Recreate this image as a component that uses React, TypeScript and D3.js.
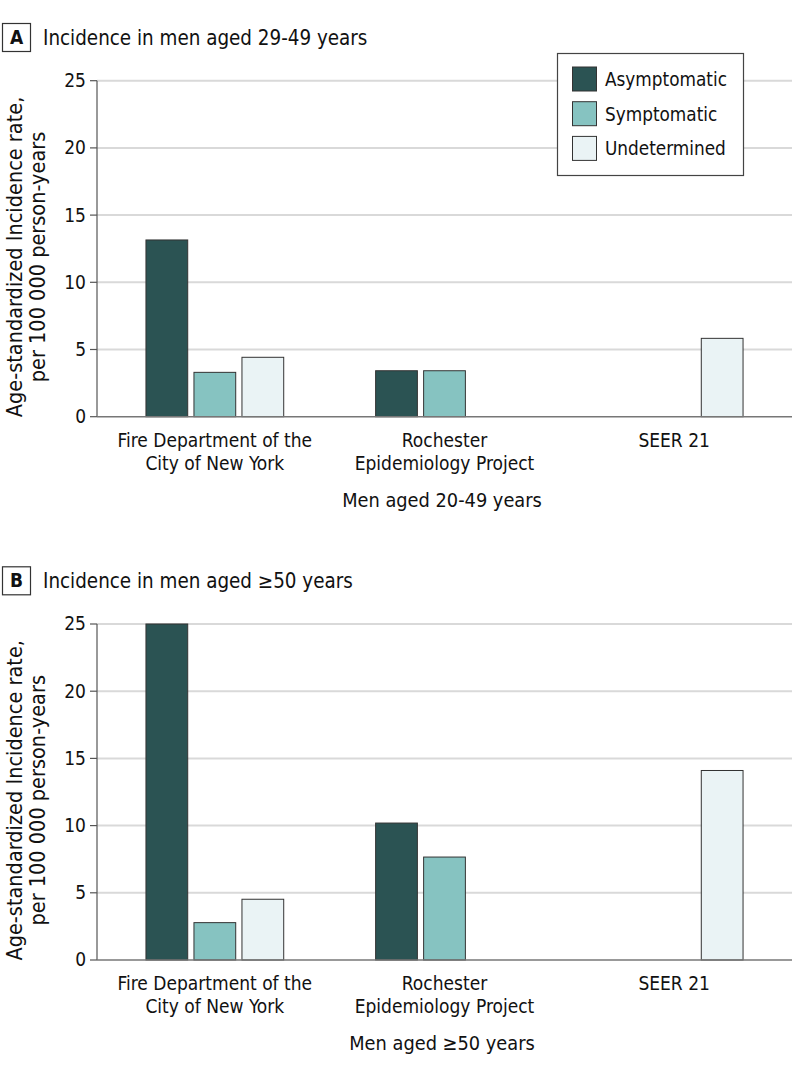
import React from "react";
import * as d3 from "d3";

const categories = ["Fire Department of the\nCity of New York", "Rochester\nEpidemiology Project", "SEER 21"];
const series = ["Asymptomatic", "Symptomatic", "Undetermined"];
const colors = ["#2b5353", "#86c3c1", "#eaf3f5"];
const yTicks = [0, 5, 10, 15, 20, 25];

// values per category: [Asymptomatic, Symptomatic, Undetermined]
const panelAValues: (number | null)[][] = [
  [13.15, 3.3, 4.42],
  [3.42, 3.42, null],
  [null, null, 5.83],
];
const panelBValues: (number | null)[][] = [
  [25, 2.78, 4.52],
  [10.19, 7.66, null],
  [null, null, 14.1],
];

const panelLetters = ["A", "B"];
const panelTitles = ["Incidence in men aged 29-49 years", "Incidence in men aged \u226550 years"];
const xTitles = ["Men aged 20-49 years", "Men aged \u226550 years"];
const yTitleLines = ["Age-standardized Incidence rate,", "per 100 000 person-years"];

const FONT = "'DejaVu Sans Condensed', 'DejaVu Sans', sans-serif";

function Panel({ offsetY, letter, title, xTitle, values, legend }: any) {
  const left = 97;
  const right = 792;
  const y = d3.scaleLinear().domain([0, 25]).range([416.7, 80.7]);
  const x0 = d3.scaleBand<string>().domain(categories).range([100, 789]).padding(0);
  const x1 = d3
    .scaleBand<string>()
    .domain(series)
    .range([-72, 72])
    .paddingInner(0.13)
    .paddingOuter(0.065);
  return (
    <g transform={`translate(0,${offsetY})`}>
      <rect x={2.5} y={23.5} width={28} height={28} fill="#fff" stroke="#333" strokeWidth={1.2} />
      <text x={16.5} y={44} textAnchor="middle" fontSize={19} fontWeight="bold" fill="#111">
        {letter}
      </text>
      <text x={43} y={45} fontSize={20.4} fill="#111">
        {title}
      </text>
      {yTicks
        .filter((t) => t > 0)
        .map((t) => (
          <line key={t} x1={left} x2={right} y1={y(t)} y2={y(t)} stroke="#d9d9d9" strokeWidth={2} />
        ))}
      {categories.map((c, ci) =>
        series.map((s, si) => {
          const v = values[ci][si];
          if (v == null) return null;
          const cx = (x0(c) as number) + x0.bandwidth() / 2;
          return (
            <rect
              key={c + s}
              x={cx + (x1(s) as number)}
              y={y(v)}
              width={x1.bandwidth()}
              height={y(0) - y(v)}
              fill={colors[si]}
              stroke="#333"
              strokeWidth={1}
            />
          );
        })
      )}
      <line x1={left} x2={left} y1={y(25)} y2={y(0)} stroke="#555" strokeWidth={1.2} />
      <line x1={left} x2={right} y1={y(0)} y2={y(0)} stroke="#777" strokeWidth={1.5} />
      {yTicks.map((t) => (
        <g key={t}>
          <line x1={left - 7} x2={left} y1={y(t)} y2={y(t)} stroke="#555" strokeWidth={1.2} />
          <text x={86} y={y(t) + 6.5} textAnchor="end" fontSize={19} fill="#111">
            {t}
          </text>
        </g>
      ))}
      <text transform={`translate(0,257) rotate(-90)`} textAnchor="middle" fontSize={21.5} fill="#111">
        <tspan x={0} y={22}>{yTitleLines[0]}</tspan>
        <tspan x={0} y={45}>{yTitleLines[1]}</tspan>
      </text>
      {categories.map((c) => {
        const cx = (x0(c) as number) + x0.bandwidth() / 2;
        return (
          <text key={c} textAnchor="middle" fontSize={19} fill="#111">
            {c.split("\n").map((line, i) => (
              <tspan key={i} x={cx} y={y(0) + 30 + i * 23}>
                {line}
              </tspan>
            ))}
          </text>
        );
      })}
      <text x={442} y={y(0) + 90} textAnchor="middle" fontSize={19.8} fill="#111">
        {xTitle}
      </text>
      {legend && (
        <g>
          <rect x={557.5} y={53.5} width={186} height={122} fill="#fff" stroke="#444" strokeWidth={1.2} />
          {series.map((s, i) => (
            <g key={s}>
              <rect x={572.5} y={67 + i * 34.7} width={24} height={24} fill={colors[i]} stroke="#333" strokeWidth={1} />
              <text x={605} y={86 + i * 34.7} fontSize={18.8} fill="#111">
                {s}
              </text>
            </g>
          ))}
        </g>
      )}
    </g>
  );
}

export default function App() {
  return (
    <svg
      width={798}
      height={1072}
      style={{ position: "absolute", left: 0, top: 0, background: "#fff", fontFamily: FONT }}
      fontFamily={FONT}
    >
      <rect width={798} height={1072} fill="#fff" />
      <Panel offsetY={0} letter={panelLetters[0]} title={panelTitles[0]} xTitle={xTitles[0]} values={panelAValues} legend />
      <Panel offsetY={543.3} letter={panelLetters[1]} title={panelTitles[1]} xTitle={xTitles[1]} values={panelBValues} legend={false} />
    </svg>
  );
}
